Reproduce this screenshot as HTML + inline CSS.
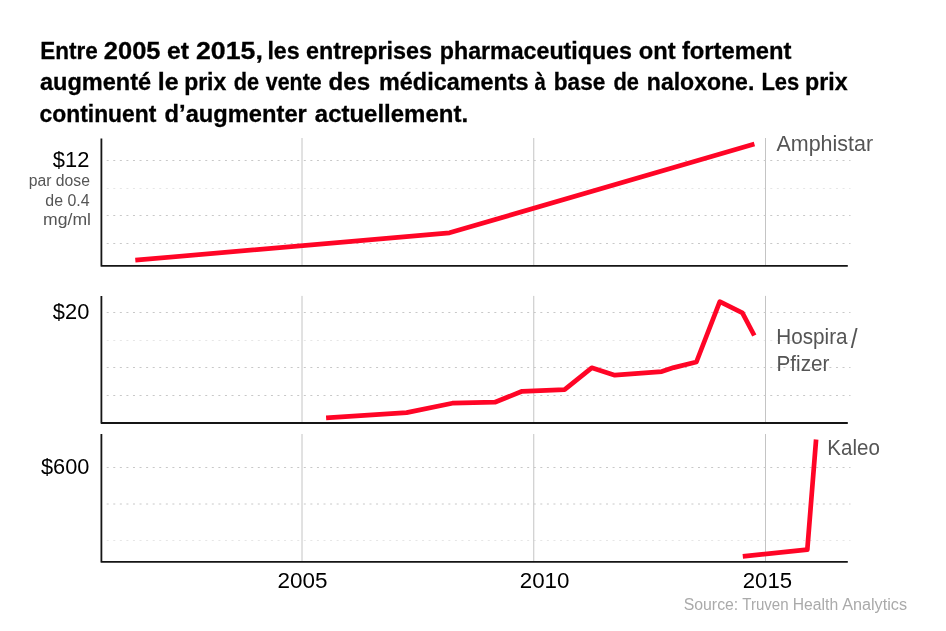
<!DOCTYPE html>
<html lang="fr">
<head>
<meta charset="utf-8">
<title>Prix de la naloxone</title>
<style>
html,body{margin:0;padding:0;background:#fff;}
body{width:946px;height:631px;overflow:hidden;}
svg{display:block;}
text{font-family:"Liberation Sans",sans-serif;}
.title{font-weight:bold;font-size:24.5px;fill:#000;stroke:#000;stroke-width:.3px;}
.ax{font-size:22px;fill:#000;}
.lbl{font-size:22px;fill:#555;}
.slash{font-size:27.5px;fill:#555;}
.unit{font-size:16px;fill:#555;}
.src{font-size:16px;fill:#aaa;}
.axis{stroke:#151515;stroke-width:1.8;fill:none;stroke-linejoin:round;}
.vg{stroke:#c4c4c4;stroke-width:1;fill:none;}
.hg{stroke:#c8c8c8;stroke-width:1;stroke-dasharray:2 4.57;fill:none;}
.faint{stroke-opacity:.45;}
.ln{stroke:#ff0526;stroke-width:4.7;fill:none;stroke-linejoin:round;stroke-linecap:butt;}
</style>
</head>
<body>
<svg width="946" height="631" viewBox="0 0 946 631">
<rect width="946" height="631" fill="#fff"/>
<!-- chart 1 -->
<g>
  <path class="vg" d="M302 138V266M533.75 138V266M765.5 138V266"/>
  <path class="hg" d="M106.7 160.5H850.5M106.7 215.5H850.5M106.7 243.5H850.5"/>
  <path class="hg faint" d="M106.7 188.5H850.5"/>
  <path class="axis" d="M101.4 138.4V265.9H847.8"/>
  <polyline class="ln" points="135.3,260.2 449.5,232.8 754.4,144.1"/>
</g>
<!-- chart 2 -->
<g>
  <path class="vg" d="M302 295.9V423M533.75 295.9V423M765.5 295.9V423"/>
  <path class="hg" d="M106.7 312.5H850.5M106.7 367.5H850.5M106.7 395.5H850.5"/>
  <path class="hg faint" d="M106.7 340.5H850.5"/>
  <path class="axis" d="M101.4 295.9V423H847.8"/>
  <polyline class="ln" points="326.1,417.9 406.6,412.6 452.3,403.2 494.9,402.2 522.1,391.3 564.6,389.6 591.7,367.8 614.8,375.2 661.8,371.6 673.7,367.6 696.4,362 719.8,301.7 742.4,312.8 754.3,335.5"/>
</g>
<!-- chart 3 -->
<g>
  <path class="vg" d="M302 434V561M533.75 434V561M765.5 434V561"/>
  <path class="hg" d="M106.7 467.5H850.5M106.7 504H850.5"/>
  <path class="hg faint" d="M106.7 540.5H850.5"/>
  <path class="axis" d="M101.4 434V561.9H847.8"/>
  <polyline class="ln" points="742.8,556.3 807.3,549.7 816.1,439.5"/>
</g>

<g>
<text class="title" y="58.6"><tspan x="40.25" textLength="57.54" lengthAdjust="spacingAndGlyphs">Entre</tspan> <tspan x="103.88" textLength="56.66" lengthAdjust="spacingAndGlyphs">2005</tspan> <tspan x="167.04" textLength="22.00" lengthAdjust="spacingAndGlyphs">et</tspan> <tspan x="195.95" textLength="66.88" lengthAdjust="spacingAndGlyphs">2015,</tspan> <tspan x="267.38" textLength="32.19" lengthAdjust="spacingAndGlyphs">les</tspan> <tspan x="306.08" textLength="126.04" lengthAdjust="spacingAndGlyphs">entreprises</tspan> <tspan x="439.82" textLength="192.11" lengthAdjust="spacingAndGlyphs">pharmaceutiques</tspan> <tspan x="638.78" textLength="36.82" lengthAdjust="spacingAndGlyphs">ont</tspan> <tspan x="681.96" textLength="109.53" lengthAdjust="spacingAndGlyphs">fortement</tspan></text>
<text class="title" y="90.3"><tspan x="39.92" textLength="111.27" lengthAdjust="spacingAndGlyphs">augmenté</tspan> <tspan x="157.87" textLength="20.83" lengthAdjust="spacingAndGlyphs">le</tspan> <tspan x="184.23" textLength="42.01" lengthAdjust="spacingAndGlyphs">prix</tspan> <tspan x="233.84" textLength="25.29" lengthAdjust="spacingAndGlyphs">de</tspan> <tspan x="265.82" textLength="55.83" lengthAdjust="spacingAndGlyphs">vente</tspan> <tspan x="328.56" textLength="41.55" lengthAdjust="spacingAndGlyphs">des</tspan> <tspan x="379.01" textLength="149.62" lengthAdjust="spacingAndGlyphs">médicaments</tspan> <tspan x="534.49" textLength="11.31" lengthAdjust="spacingAndGlyphs">à</tspan> <tspan x="553.85" textLength="51.40" lengthAdjust="spacingAndGlyphs">base</tspan> <tspan x="613.53" textLength="25.50" lengthAdjust="spacingAndGlyphs">de</tspan> <tspan x="646.83" textLength="107.45" lengthAdjust="spacingAndGlyphs">naloxone.</tspan> <tspan x="761.38" textLength="37.76" lengthAdjust="spacingAndGlyphs">Les</tspan> <tspan x="805.12" textLength="42.52" lengthAdjust="spacingAndGlyphs">prix</tspan></text>
<text class="title" y="122.0"><tspan x="39.60" textLength="116.77" lengthAdjust="spacingAndGlyphs">continuent</tspan> <tspan x="164.57" textLength="142.26" lengthAdjust="spacingAndGlyphs">d’augmenter</tspan> <tspan x="314.81" textLength="153.31" lengthAdjust="spacingAndGlyphs">actuellement.</tspan></text>
<text class="ax" y="166.8"><tspan x="52.85" textLength="36.51" lengthAdjust="spacingAndGlyphs">$12</tspan></text>
<text class="unit" y="185.5"><tspan x="28.72" textLength="61.19" lengthAdjust="spacingAndGlyphs">par dose</tspan></text>
<text class="unit" y="205.5"><tspan x="45.30" textLength="44.18" lengthAdjust="spacingAndGlyphs">de 0.4</tspan></text>
<text class="unit" y="225.1"><tspan x="43.10" textLength="47.87" lengthAdjust="spacingAndGlyphs">mg/ml</tspan></text>
<text class="ax" y="318.9"><tspan x="52.85" textLength="36.46" lengthAdjust="spacingAndGlyphs">$20</tspan></text>
<text class="ax" y="473.7"><tspan x="40.95" textLength="48.44" lengthAdjust="spacingAndGlyphs">$600</tspan></text>
<text class="lbl" y="150.5"><tspan x="776.50" textLength="96.59" lengthAdjust="spacingAndGlyphs">Amphistar</tspan></text>
<text class="lbl" y="344.4"><tspan x="776.25" textLength="71.27" lengthAdjust="spacingAndGlyphs">Hospira</tspan></text>
<text class="slash" y="347.6"><tspan x="850.80" textLength="6.80" lengthAdjust="spacingAndGlyphs">/</tspan></text>
<text class="lbl" y="370.6"><tspan x="776.55" textLength="52.88" lengthAdjust="spacingAndGlyphs">Pfizer</tspan></text>
<text class="lbl" y="454.8"><tspan x="827.37" textLength="52.56" lengthAdjust="spacingAndGlyphs">Kaleo</tspan></text>
<text class="ax" y="588.2"><tspan x="277.58" textLength="49.99" lengthAdjust="spacingAndGlyphs">2005</tspan> <tspan x="519.78" textLength="49.73" lengthAdjust="spacingAndGlyphs">2010</tspan> <tspan x="742.79" textLength="49.27" lengthAdjust="spacingAndGlyphs">2015</tspan></text>
<text class="src" y="609.7"><tspan x="683.66" textLength="54.62" lengthAdjust="spacingAndGlyphs">Source:</tspan> <tspan x="742.26" textLength="46.33" lengthAdjust="spacingAndGlyphs">Truven</tspan> <tspan x="792.77" textLength="45.41" lengthAdjust="spacingAndGlyphs">Health</tspan> <tspan x="842.20" textLength="64.84" lengthAdjust="spacingAndGlyphs">Analytics</tspan></text>
</g>
</svg>
</body>
</html>
